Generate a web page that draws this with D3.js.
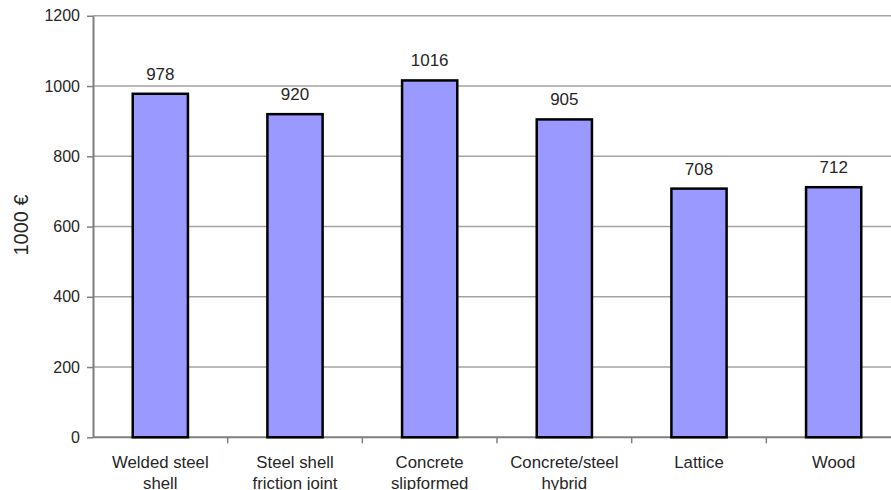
<!DOCTYPE html>
<html>
<head>
<meta charset="utf-8">
<script src="https://cdn.jsdelivr.net/npm/d3@7"></script>
<style>
  html, body { margin: 0; padding: 0; background: #fff; overflow: hidden; }
  svg { display: block; font-family: "Liberation Sans", Arial, sans-serif; }
</style>
</head>
<body>
<svg id="chart" width="891" height="490"></svg>
<script>
// Tower cost per structural concept, in thousands of euros
const categories = [
  ["Welded steel", "shell"],
  ["Steel shell", "friction joint"],
  ["Concrete", "slipformed"],
  ["Concrete/steel", "hybrid"],
  ["Lattice"],
  ["Wood"]
];
const costs = [978, 920, 1016, 905, 708, 712];
const yTicks = [0, 200, 400, 600, 800, 1000, 1200];
const yTitle = "1000 €";

const svg = d3.select("#chart");
const W = 891, H = 490;
const plot = { left: 93, right: 901, top: 15.8, bottom: 437.3 };

const keys = categories.map((c, i) => i);
const x = d3.scaleBand().domain(keys).range([plot.left, plot.right]).padding(0);
const y = d3.scaleLinear().domain([0, 1200]).range([plot.bottom, plot.top]);
const barW = x.bandwidth() * 0.41;

// horizontal gridlines
svg.append("g")
  .selectAll("line")
  .data(yTicks.filter(t => t > 0))
  .join("line")
  .attr("x1", plot.left).attr("x2", W)
  .attr("y1", d => y(d)).attr("y2", d => y(d))
  .attr("stroke", "#a3a3a3").attr("stroke-width", 1.5);

// y axis
const yAxis = svg.append("g")
  .attr("transform", `translate(${plot.left},0)`)
  .call(d3.axisLeft(y).tickValues(yTicks).tickFormat(d3.format("d"))
    .tickSize(6).tickPadding(7).tickSizeOuter(0));
yAxis.select(".domain").attr("stroke", "#7f7f7f").attr("stroke-width", 2);
yAxis.selectAll(".tick line").attr("stroke", "#7f7f7f").attr("stroke-width", 1.5);
yAxis.selectAll(".tick text")
  .attr("font-size", 16).attr("fill", "#262626")
  .attr("font-family", "Liberation Sans, Arial, sans-serif");

// x axis baseline with ticks at category boundaries
const xg = svg.append("g");
xg.append("line")
  .attr("x1", plot.left).attr("x2", W)
  .attr("y1", y(0)).attr("y2", y(0))
  .attr("stroke", "#7f7f7f").attr("stroke-width", 2);
xg.selectAll("line.tk")
  .data(keys.slice(1))
  .join("line")
  .attr("class", "tk")
  .attr("x1", d => x(d)).attr("x2", d => x(d))
  .attr("y1", y(0)).attr("y2", y(0) + 6)
  .attr("stroke", "#7f7f7f").attr("stroke-width", 1.5);

// bars
svg.append("g")
  .selectAll("rect")
  .data(costs)
  .join("rect")
  .attr("x", (d, i) => x(i) + x.bandwidth() / 2 - barW / 2)
  .attr("width", barW)
  .attr("y", d => y(d))
  .attr("height", d => y(0) - y(d))
  .attr("fill", "#9999ff")
  .attr("stroke", "#000")
  .attr("stroke-width", 2.5);

// value labels
svg.append("g")
  .selectAll("text")
  .data(costs)
  .join("text")
  .attr("x", (d, i) => x(i) + x.bandwidth() / 2)
  .attr("y", d => y(d) - 14)
  .attr("text-anchor", "middle")
  .attr("font-size", 17)
  .attr("fill", "#262626")
  .text(d => d);

// category labels (two-line names wrap onto a second row)
const cat = svg.append("g")
  .selectAll("text")
  .data(categories)
  .join("text")
  .attr("text-anchor", "middle")
  .attr("font-size", 16.8)
  .attr("fill", "#262626");
cat.selectAll("tspan")
  .data((d, i) => d.map(line => ({ line, i })))
  .join("tspan")
  .attr("x", d => x(d.i) + x.bandwidth() / 2)
  .attr("y", (d, j) => 467.5 + j * 21.5)
  .text(d => d.line);

// y axis title
svg.append("text")
  .attr("transform", "translate(28,225) rotate(-90)")
  .attr("text-anchor", "middle")
  .attr("font-size", 20)
  .attr("fill", "#262626")
  .text(yTitle);
</script>
</body>
</html>
